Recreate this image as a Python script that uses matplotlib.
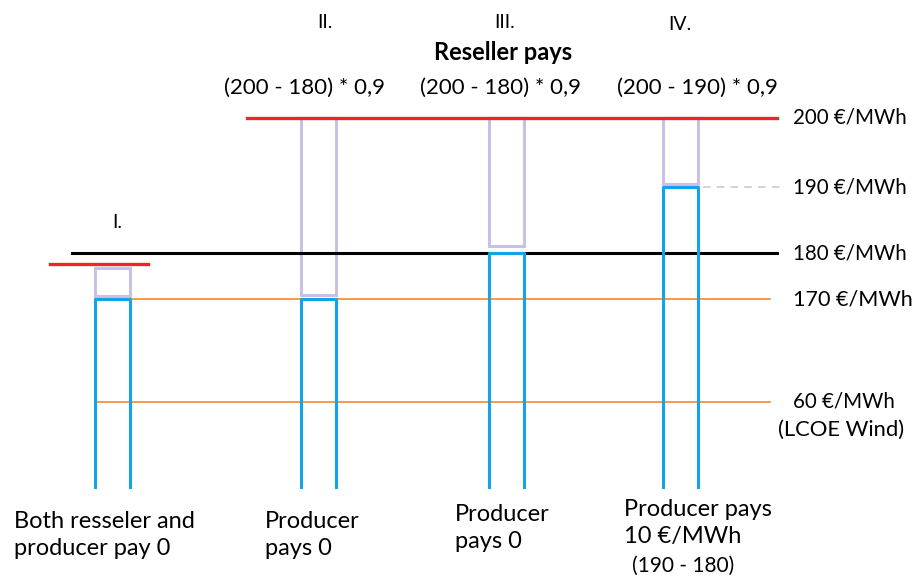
import matplotlib.pyplot as plt
import numpy as np
from matplotlib.patches import Rectangle

# price levels (EUR/MWh)
cases = ["I.", "II.", "III.", "IV."]
producer_price = [170, 170, 180, 190]      # top of blue column
reseller_bottom = [170.7, 170.9, 181, 190.4]
reseller_top = [176.8, 200, 200, 200]      # top of purple box
case_I_cap = 177.6
cap_price = 200
market_price = 180
strike_190 = 190
ref_170 = 170
lcoe_wind = 60

formulas = ["(200 - 180) * 0,9", "(200 - 180) * 0,9", "(200 - 190) * 0,9"]
bottom_notes = [
    "Both resseler and\nproducer pay 0",
    "Producer\npays 0",
    "Producer\npays 0",
    "Producer pays\n10 €/MWh",
]

# schematic (non linear) vertical scale: price -> pixel row
anchor_price = np.array([-95, 0, 60, 170, 180, 190, 200, 217])
anchor_row = np.array([576, 487, 402, 299, 253, 187, 118, 0])


def fwd(p):
    return -np.interp(p, anchor_price, anchor_row)


def inv(r):
    return np.interp(-r, anchor_row[::-1], anchor_price[::-1])


plt.rcParams["font.family"] = ["Lato", "DejaVu Sans"]
FS = 16

fig = plt.figure(figsize=(9.23, 5.76), dpi=100)
ax = fig.add_axes([0, 0, 1, 1])
ax.set_yscale("function", functions=(fwd, inv))
ax.set_xlim(0, 923)
ax.set_ylim(-95, 217)
ax.axis("off")

RED = "#e8262e"
BLUE = "#14a3e6"
PURPLE = "#c8c0e6"
ORANGE = "#f5892e"

# horizontal reference lines
ax.plot([247, 777], [cap_price] * 2, color=RED, lw=2.4)
ax.plot([703, 782], [strike_190] * 2, color="#c8c8c8", lw=1.1, ls=(0, (5, 4)))
ax.plot([72, 777], [market_price] * 2, color="black", lw=2.2)
ax.plot([95, 770], [ref_170] * 2, color=ORANGE, lw=1.2)
ax.plot([95, 770], [lcoe_wind] * 2, color=ORANGE, lw=1.2)
ax.plot([50, 148], [case_I_cap] * 2, color=RED, lw=2.4)

centers = [112.5, 318, 506.5, 680]
width = 35
for cx, pp, rb, rt in zip(centers, producer_price, reseller_bottom, reseller_top):
    x0, x1 = cx - width / 2, cx + width / 2
    ax.add_patch(Rectangle((x0, rb), width, rt - rb, fill=False,
                           edgecolor=PURPLE, lw=2.2))
    ax.plot([x0, x0, x1, x1], [0, pp, pp, 0], color=BLUE, lw=2.2)

# right hand labels
right = [(cap_price, "200 €/MWh", 14.8), (strike_190, "190 €/MWh", 14.8),
         (market_price, "180 €/MWh", 14.8), (ref_170, "170 €/MWh", 15.6),
         (lcoe_wind, "60 €/MWh", 14.8)]
for y, s, fs in right:
    ax.text(793, y, s, fontsize=fs, va="center", ha="left")


def ftext(x, y, s, **kw):
    kw.setdefault("fontsize", FS)
    fig.text(x / 923, 1 - y / 576, s, **kw)


ftext(778, 430, "(LCOE Wind)", ha="left", va="center", fontsize=15.8)

# column titles
ftext(117, 222, cases[0], ha="center", va="center", fontsize=14)
ftext(325, 22, cases[1], ha="center", va="center", fontsize=14)
ftext(505, 22, cases[2], ha="center", va="center", fontsize=14)
ftext(680, 25, cases[3], ha="center", va="center", fontsize=14)
ftext(503, 53, "Reseller pays", ha="center", va="center", fontweight="bold",
      fontsize=17)
for x, s in zip([305, 501, 697], formulas):
    ftext(x, 88, s, ha="center", va="center")

note_kw = dict(ha="left", va="center", linespacing=1.3, fontsize=17)
ftext(14, 535, bottom_notes[0], **note_kw)
ftext(265, 535, bottom_notes[1], **note_kw)
ftext(455, 528, bottom_notes[2], **note_kw)
ftext(624, 523, bottom_notes[3], **note_kw)
ftext(632, 566, "(190 - 180)", ha="left", va="center", fontsize=15)

fig.savefig("out.png", dpi=100, facecolor="white")
